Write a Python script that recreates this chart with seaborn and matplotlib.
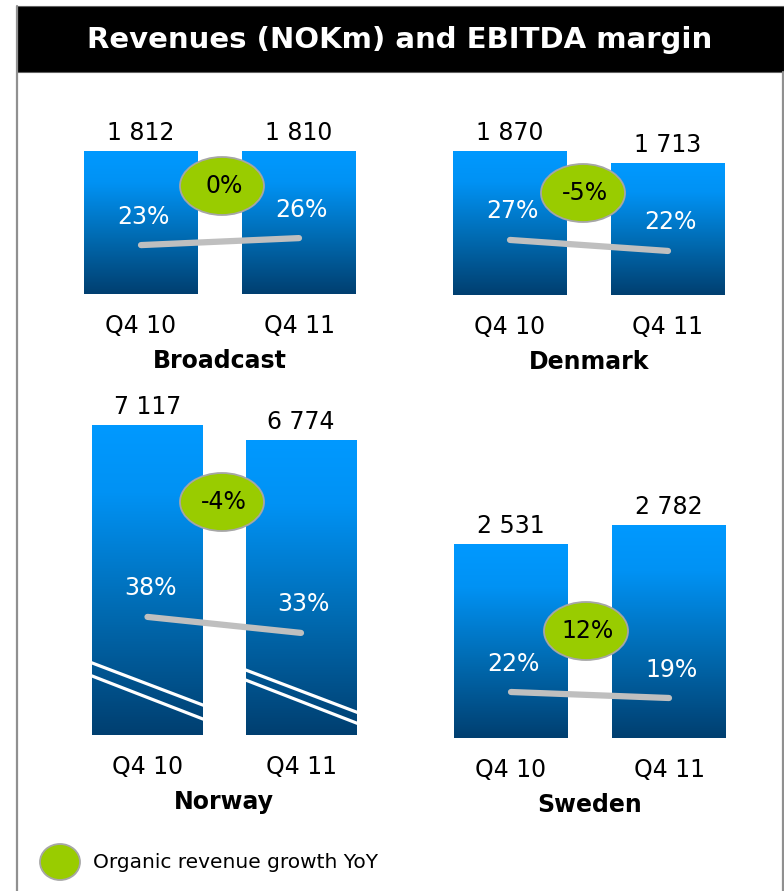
import numpy as np
import pandas as pd
import matplotlib
matplotlib.use("Agg")
import matplotlib.pyplot as plt
import seaborn as sns
from matplotlib.patches import Rectangle, Ellipse
from matplotlib.lines import Line2D
from matplotlib.colors import LinearSegmentedColormap

# ---------------- data ----------------
title = "Revenues (NOKm) and EBITDA margin"
periods = ["Q4 10", "Q4 11"]
segments = ["Broadcast", "Denmark", "Norway", "Sweden"]
revenues_broadcast = [1812, 1810]
revenues_denmark = [1870, 1713]
revenues_norway = [7117, 6774]
revenues_sweden = [2531, 2782]
margin_broadcast = [23, 26]
margin_denmark = [27, 22]
margin_norway = [38, 33]
margin_sweden = [22, 19]
growth_labels = ["0%", "-5%", "-4%", "12%"]
legend_label = "Organic revenue growth YoY"

revenues = [revenues_broadcast, revenues_denmark, revenues_norway, revenues_sweden]
margins = [margin_broadcast, margin_denmark, margin_norway, margin_sweden]

# ---------------- layout ----------------
W, H = 784, 891
sns.set_theme(style="white")
plt.rcParams["font.family"] = ["DejaVu Sans"]

fig = plt.figure(figsize=(W / 100, H / 100), dpi=100)
fig.patch.set_facecolor("white")


def fx(px):
    return px / W


def fy(py):
    return 1 - py / H


# panel layout: bar centres (px), bar bottom (px), axes top (px), revenue ylim top,
# margin ylim, bubble centre (px)
panels = [
    dict(c=(141, 299), bottom=294, top=110, ytop=2332, mlim=(2, 81), bub=(222, 186), bw=0.72),
    dict(c=(510, 668), bottom=295, top=110, ytop=2402, mlim=(2, 86), bub=(583, 193), bw=0.72),
    dict(c=(147.5, 301), bottom=735, top=390, ytop=7920, mlim=(1.1, 108.9), bub=(222, 502), bw=0.723),
    dict(c=(511, 669), bottom=738, top=490, ytop=3237, mlim=(-1, 123), bub=(586, 631), bw=0.72),
]

grad_cmap = LinearSegmentedColormap.from_list(
    "bar", [(0.0, "#0099FF"), (0.22, "#0092F4"), (0.6, "#006BB2"), (1.0, "#003F70")]
)
gradient = np.linspace(0, 1, 256).reshape(-1, 1)

GREEN = "#99CC00"
GREY_LINE = "#BFBFBF"
FS = 17

for i, (seg, rev, mar, gl, p) in enumerate(zip(segments, revenues, margins, growth_labels, panels)):
    c0, c1 = p["c"]
    s = c1 - c0
    left = c0 - s / 2
    right = c1 + s / 2
    ax = fig.add_axes([fx(left), fy(p["bottom"]), (right - left) / W, (p["bottom"] - p["top"]) / H])
    df = pd.DataFrame({"period": periods, "revenue": rev})
    sns.barplot(data=df, x="period", y="revenue", ax=ax, width=p["bw"], color="#0099FF",
                saturation=1, edgecolor="none", linewidth=0)
    for patch in list(ax.patches):
        x0, y0 = patch.get_x(), patch.get_y()
        w, h = patch.get_width(), patch.get_height()
        patch.set_facecolor("none")
        im = ax.imshow(gradient, extent=[x0, x0 + w, y0, y0 + h], origin="upper",
                       aspect="auto", cmap=grad_cmap, zorder=1, interpolation="bilinear")
        im.set_clip_path(patch)
    ax.set_xlim(-0.5, 1.5)
    ax.set_ylim(0, p["ytop"])
    ax.axis("off")

    # value labels above bars
    for j, v in enumerate(rev):
        ax.annotate(f"{v:,}".replace(",", " "), (j, v), xytext=(0, 13), textcoords="offset points",
                    ha="center", va="center", fontsize=FS, color="black", annotation_clip=False)
        ax.annotate(periods[j], (j, 0), xytext=(0, -23), textcoords="offset points",
                    ha="center", va="center", fontsize=FS, color="black", annotation_clip=False)
    ax.annotate(seg, (0.5, 0), xytext=(0, -48.5), textcoords="offset points",
                ha="center", va="center", fontsize=FS, fontweight="bold", color="black",
                annotation_clip=False)

    # break marks on Norway
    if seg == "Norway":
        k = (p["bottom"] - p["top"]) / p["ytop"]
        breaks = [((75, 27), (62, 13)), ((68, 20), (58, 9))]
        for j, pair in enumerate(breaks):
            patch = ax.patches[j]
            xl, xr = patch.get_x(), patch.get_x() + patch.get_width()
            for (yl, yr) in pair:
                ax.plot([xl - 0.05, xr + 0.05], [yl / k, yr / k], color="white", lw=2.3,
                        solid_capstyle="butt", zorder=3, clip_path=patch)

    # EBITDA margin line
    ax2 = ax.twinx()
    mdf = pd.DataFrame({"x": [0, 1], "margin": mar})
    sns.lineplot(data=mdf, x="x", y="margin", ax=ax2, color=GREY_LINE, lw=4.5,
                 solid_capstyle="round", zorder=4)
    ax2.set_xlim(-0.5, 1.5)
    ax2.set_ylim(*p["mlim"])
    ax2.axis("off")
    for j, m in enumerate(mar):
        ax2.annotate(f"{m}%", (j, m), xytext=(2, 20.5), textcoords="offset points",
                     ha="center", va="center", fontsize=FS, color="white", annotation_clip=False)

    # growth bubble
    bx, by = p["bub"]
    fig.patches.append(Ellipse((fx(bx), fy(by)), 84 / W, 58 / H, transform=fig.transFigure,
                               facecolor=GREEN, edgecolor="#A6A6A6", lw=1.3, zorder=10))
    fig.text(fx(bx + 2), fy(by), gl, ha="center", va="center", fontsize=FS, color="black", zorder=11)

# ---------------- frame & title ----------------
fig.add_artist(Line2D([fx(17), fx(17)], [fy(6), fy(891)], transform=fig.transFigure,
                      color="#909090", lw=1.6))
fig.add_artist(Line2D([fx(782.5), fx(782.5)], [fy(72), fy(891)], transform=fig.transFigure,
                      color="#909090", lw=1.6))
fig.patches.append(Rectangle((fx(17), fy(72)), (784 - 17) / W, 66 / H, transform=fig.transFigure,
                             facecolor="black", edgecolor="#606060", lw=0.8))
fig.text(fx(400), fy(40), title, ha="center", va="center", fontsize=21, fontweight="bold",
         color="white")

# legend
fig.patches.append(Ellipse((fx(60), fy(862)), 40 / W, 36 / H, transform=fig.transFigure,
                           facecolor=GREEN, edgecolor="#A6A6A6", lw=1.3))
fig.text(fx(93), fy(863), legend_label, ha="left", va="center", fontsize=14.5, color="black")

fig.savefig("out.png", dpi=100, facecolor="white")
